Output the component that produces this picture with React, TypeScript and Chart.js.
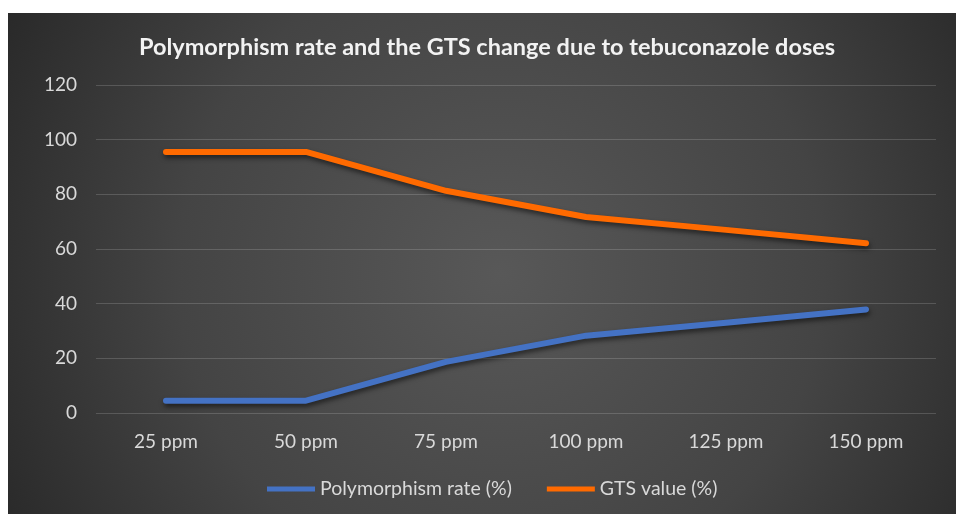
import React, { useEffect, useRef } from "react";
import { Chart, registerables } from "chart.js";

Chart.register(...registerables);

const categories = ["25 ppm", "50 ppm", "75 ppm", "100 ppm", "125 ppm", "150 ppm"];
const polymorphismRate = [4.5, 4.5, 18.7, 28.3, 33.0, 37.9];
const gtsValue = [95.5, 95.5, 81.3, 71.7, 67.0, 62.1];
const titleText = "Polymorphism rate and the GTS change due to tebuconazole doses";
const seriesNames = ["Polymorphism rate (%)", "GTS value (%)"];

const W = 948;
const H = 501;
const FONT = "Lato, 'Noto Sans', sans-serif";
const TEXT = "#d9d9d9";

const bgPlugin = {
  id: "bgPlugin",
  beforeDraw(chart: any) {
    const { ctx, width, height } = chart;
    ctx.save();
    const g = ctx.createRadialGradient(width * 0.52, height * 0.52, 0, width * 0.52, height * 0.52, width * 0.62);
    g.addColorStop(0, "#585858");
    g.addColorStop(0.55, "#444444");
    g.addColorStop(1, "#262626");
    ctx.fillStyle = g;
    ctx.fillRect(0, 0, width, height);
    ctx.restore();
  },
};

const shadowPlugin = {
  id: "shadowPlugin",
  beforeDatasetsDraw(chart: any) {
    const ctx = chart.ctx;
    ctx.save();
    ctx.shadowColor = "rgba(0,0,0,0.55)";
    ctx.shadowBlur = 5;
    ctx.shadowOffsetX = 1;
    ctx.shadowOffsetY = 3;
  },
  afterDatasetsDraw(chart: any) {
    chart.ctx.restore();
  },
};

const legendPlugin = {
  id: "customLegend",
  afterDraw(chart: any) {
    const { ctx } = chart;
    ctx.save();
    ctx.font = `19.5px ${FONT}`;
    ctx.textBaseline = "middle";
    ctx.textAlign = "left";
    const y = 476;
    let x = 259;
    chart.data.datasets.forEach((ds: any) => {
      ctx.fillStyle = ds.borderColor;
      ctx.fillRect(x, y - 2.5, 48, 5);
      x += 48 + 5;
      ctx.fillStyle = TEXT;
      ctx.fillText(ds.label, x, y);
      x += ctx.measureText(ds.label).width + 35;
    });
    ctx.restore();
  },
};

export default function App() {
  const ref = useRef<HTMLCanvasElement>(null);
  useEffect(() => {
    if (!ref.current) return;
    const chart = new Chart(ref.current, {
      type: "line",
      data: {
        labels: categories,
        datasets: [
          {
            label: seriesNames[0],
            data: polymorphismRate,
            borderColor: "#4472C4",
            backgroundColor: "#4472C4",
            borderWidth: 6,
            pointRadius: 0,
            borderCapStyle: "round",
            borderJoinStyle: "round",
            tension: 0,
          },
          {
            label: seriesNames[1],
            data: gtsValue,
            borderColor: "#FF6A00",
            backgroundColor: "#FF6A00",
            borderWidth: 6,
            pointRadius: 0,
            borderCapStyle: "round",
            borderJoinStyle: "round",
            tension: 0,
          },
        ],
      },
      options: {
        responsive: false,
        animation: false,
        layout: { padding: { left: 30, right: 20, top: 0, bottom: 41 } },
        plugins: {
          title: {
            display: true,
            text: titleText,
            color: "#f2f2f2",
            font: { family: FONT, size: 23.5, weight: "bold", lineHeight: 1.2 },
            padding: { top: 19.9, bottom: 23.9 },
          },
          legend: { display: false },
          tooltip: { enabled: false },
        },
        scales: {
          x: {
            offset: true,
            grid: { display: false, drawTicks: false },
            border: { display: false },
            ticks: { color: TEXT, font: { family: FONT, size: 19 }, padding: 17, maxRotation: 0 },
            afterFit(scale: any) {
              scale.height = 60;
            },
          },
          y: {
            min: 0,
            max: 120,
            ticks: { stepSize: 20, color: TEXT, font: { family: FONT, size: 19 }, padding: 19 },
            grid: { color: "rgba(255,255,255,0.16)", lineWidth: 1, drawTicks: false },
            border: { display: false },
            afterFit(scale: any) {
              scale.width = 58;
            },
          },
        },
      },
      plugins: [bgPlugin, shadowPlugin, legendPlugin],
    });
    return () => chart.destroy();
  }, []);
  return (
    <div style={{ position: "absolute", left: 8, top: 13, width: W, height: H }}>
      <canvas ref={ref} width={W} height={H} style={{ width: W, height: H, display: "block" }} />
    </div>
  );
}
